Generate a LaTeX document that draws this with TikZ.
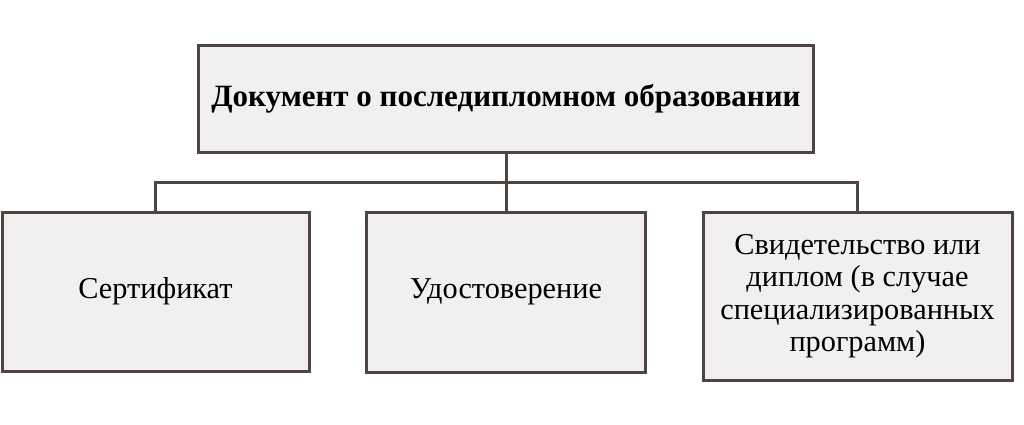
\documentclass[tikz,border=0pt]{standalone}
\usepackage{fontspec}
\setmainfont{Liberation Serif}
\definecolor{edge}{HTML}{4F4540}
\definecolor{boxfill}{HTML}{F2EFF0}
\begin{document}
\begin{tikzpicture}[x=1pt,y=-1pt,
  box/.style={draw=edge,fill=boxfill,line width=3pt,inner sep=0pt,align=center,font=\fontsize{30.3}{32.4}\selectfont},
  link/.style={draw=edge,line width=3pt}]
\useasboundingbox (0,0) rectangle (1024,424);
\node[box,minimum width=615pt,minimum height=107pt,font=\fontsize{31}{34}\selectfont\bfseries] (top) at (506,98.5) {Документ о последипломном образовании};
\node[box,minimum width=307pt,minimum height=159pt] (a) at (155.5,291.5) {Сертификат};
\node[box,minimum width=279pt,minimum height=160pt] (b) at (506,292) {Удостоверение};
\node[box,minimum width=309pt,minimum height=168pt] (c) at (857.5,296) {Свидетельство или\\диплом (в случае\\специализированных\\программ)};
\coordinate (j) at (506,182);
\draw[link] (top.south) -- (j);
\draw[link] (j) -- (b.north);
\draw[link] (a.north) |- (j) -| (c.north);
\end{tikzpicture}
\end{document}
